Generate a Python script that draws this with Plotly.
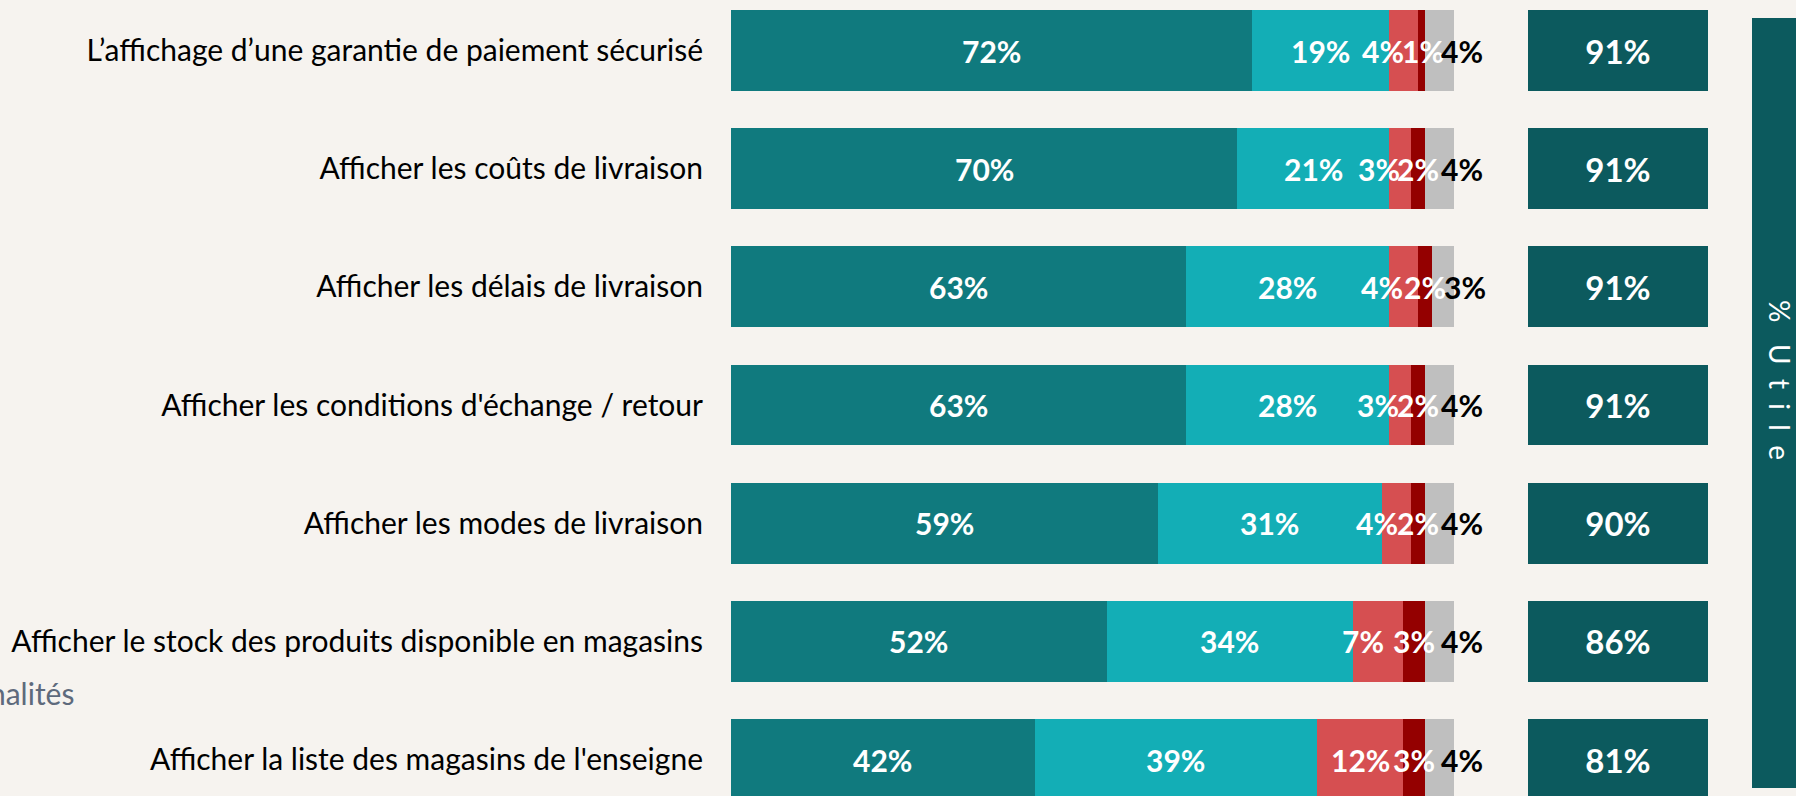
import plotly.graph_objects as go

categories = [
    "L’affichage d’une garantie de paiement sécurisé",
    "Afficher les coûts de livraison",
    "Afficher les délais de livraison",
    "Afficher les conditions d'échange / retour",
    "Afficher les modes de livraison",
    "Afficher le stock des produits disponible en magasins",
    "Afficher la liste des magasins de l'enseigne",
]
tres_utile = [72, 70, 63, 63, 59, 52, 42]
plutot_utile = [19, 21, 28, 28, 31, 34, 39]
plutot_pas_utile = [4, 3, 4, 3, 4, 7, 12]
pas_du_tout_utile = [1, 2, 2, 2, 2, 3, 3]
nsp = [4, 4, 3, 4, 4, 4, 4]
total_utile = [91, 91, 91, 91, 90, 86, 81]

series = [
    ("Très utile", tres_utile, "#107a7e"),
    ("Plutôt utile", plutot_utile, "#13aeb6"),
    ("Plutôt pas utile", plutot_pas_utile, "#d64f51"),
    ("Pas du tout utile", pas_du_tout_utile, "#940000"),
    ("NSP", nsp, "#bfbfbf"),
]

# label nudges (pixels) for the small red labels, as in the original layout
red_shift = [-20, -21, -21, -22, -19, -15, 0]
# label nudges (pixels) for the small dark-red labels
dark_shift = [2, 0, 0, 0, 0, 0, 0]

W, H = 1796, 796
BG = "#f6f3ef"
FONT = "Lato"

fig = go.Figure()
for name, vals, col in series:
    fig.add_trace(go.Bar(
        y=categories, x=vals, name=name, orientation="h",
        marker=dict(color=col, line=dict(width=0)),
        xaxis="x", yaxis="y", hoverinfo="x+y+name",
    ))

fig.add_trace(go.Bar(
    y=categories, x=[100] * len(categories), orientation="h",
    marker=dict(color="#0c5a5e", line=dict(width=0)),
    text=[f"<b>{v}%</b>" for v in total_utile],
    textposition="inside", insidetextanchor="middle", textangle=0,
    constraintext="none",
    textfont=dict(family=FONT, size=33, color="white"),
    xaxis="x2", yaxis="y", name="% Utile", hoverinfo="text",
))

annotations = []
for i, cat in enumerate(categories):
    cum = 0
    for j, (name, vals, col) in enumerate(series):
        v = vals[i]
        xs = 0
        color = "white"
        size = 30
        if j == 2:
            xs = red_shift[i]
        if j == 3:
            xs = dark_shift[i]
        if j == 4:
            xs = 22
            color = "black"
        annotations.append(dict(
            x=cum + v / 2, y=cat, xref="x", yref="y",
            text=f"<b>{v}%</b>", showarrow=False, xshift=xs,
            font=dict(family=FONT, size=size, color=color),
        ))
        cum += v

# vertical "% Utile" header
annotations.append(dict(
    x=1780 / W, y=1 - 380 / H, xref="paper", yref="paper",
    xanchor="center", yanchor="middle",
    text="%\u00a0\u00a0\u00a0U\u00a0\u00a0t\u00a0\u00a0i\u00a0\u00a0l\u00a0\u00a0e",
    textangle=90, showarrow=False,
    font=dict(family=FONT, size=28, color="white"),
))
# clipped side title
annotations.append(dict(
    x=76 / W, y=1 - 693 / H, xref="paper", yref="paper",
    xanchor="right", yanchor="middle",
    text="Fonctionnalités", showarrow=False,
    font=dict(family=FONT, size=30, color="#5e6a7c"),
))

pitch = 118.17
c0 = 50.5
y_top = -c0 / pitch
y_bot = (H - c0) / pitch

fig.update_layout(
    width=W, height=H,
    margin=dict(l=0, r=0, t=0, b=0),
    paper_bgcolor=BG, plot_bgcolor=BG,
    barmode="stack", bargap=0.315,
    showlegend=False,
    xaxis=dict(domain=[731 / W, 1454 / W], range=[0, 100], visible=False),
    xaxis2=dict(domain=[1528 / W, 1708 / W], range=[0, 100], visible=False, anchor="y"),
    yaxis=dict(
        categoryorder="array", categoryarray=categories,
        range=[y_bot, y_top], showgrid=False, zeroline=False, showline=False,
        ticks="", ticklabelstandoff=27, automargin=False,
        tickfont=dict(family=FONT, size=30, color="black"),
    ),
    shapes=[dict(
        type="rect", xref="paper", yref="paper",
        x0=1752 / W, x1=1812 / W, y0=1 - 788 / H, y1=1 - 18 / H,
        fillcolor="#0c5a5e", line=dict(width=0), layer="below",
    )],
    annotations=annotations,
)

fig.write_html(
    "out.html",
    config={"displayModeBar": False},
    post_script="document.body.style.margin='0';document.body.style.overflow='hidden';",
)
